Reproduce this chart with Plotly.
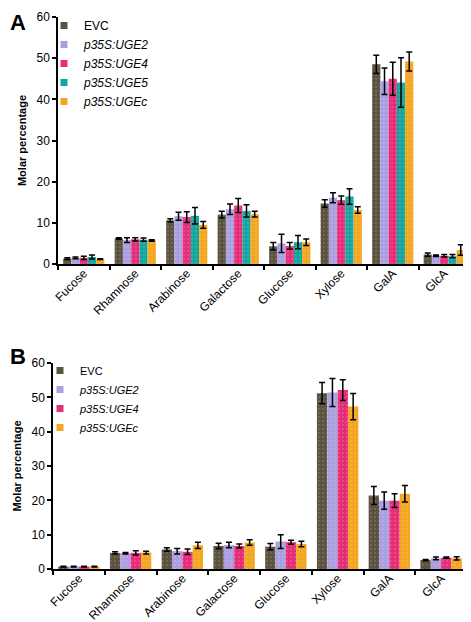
import plotly.graph_objects as go

categories = ["Fucose", "Rhamnose", "Arabinose", "Galactose", "Glucose", "Xylose", "GalA", "GlcA"]

series_a = ["EVC", "p35S:UGE2", "p35S:UGE4", "p35S:UGE5", "p35S:UGEc"]
a_evc = [1.3, 6.2, 10.6, 12.0, 4.3, 14.7, 48.5, 2.3]
a_evc_err = [0.2, 0.2, 0.4, 0.8, 0.9, 0.9, 2.2, 0.4]
a_uge2 = [1.5, 5.8, 11.6, 13.3, 5.0, 16.1, 44.4, 2.0]
a_uge2_err = [0.2, 0.6, 1.0, 1.3, 2.2, 1.2, 3.2, 0.2]
a_uge4 = [1.5, 6.0, 11.4, 14.2, 4.4, 15.5, 45.0, 2.0]
a_uge4_err = [0.4, 0.4, 1.3, 1.7, 0.8, 1.0, 4.0, 0.3]
a_uge5 = [1.7, 5.9, 11.7, 12.9, 5.3, 16.4, 44.1, 1.9]
a_uge5_err = [0.5, 0.4, 2.0, 1.5, 1.6, 1.9, 6.0, 0.4]
a_ugec = [1.2, 5.7, 9.5, 12.1, 5.3, 13.1, 49.2, 3.4]
a_ugec_err = [0.1, 0.2, 0.8, 0.7, 0.8, 0.8, 2.3, 1.3]

series_b = ["EVC", "p35S:UGE2", "p35S:UGE4", "p35S:UGEc"]
b_evc = [0.7, 4.7, 5.7, 6.7, 6.5, 51.2, 21.4, 2.6]
b_evc_err = [0.1, 0.3, 0.5, 0.8, 0.9, 3.1, 2.6, 0.2]
b_uge2 = [0.7, 4.6, 5.2, 7.0, 8.0, 51.4, 19.9, 3.1]
b_uge2_err = [0.1, 0.2, 0.8, 0.8, 2.0, 4.1, 2.5, 0.4]
b_uge4 = [0.7, 4.7, 5.0, 6.7, 7.8, 52.1, 19.9, 3.3]
b_uge4_err = [0.1, 0.6, 0.8, 0.6, 0.6, 3.0, 2.0, 0.2]
b_ugec = [0.7, 4.8, 6.9, 7.7, 7.3, 47.3, 21.9, 3.1]
b_ugec_err = [0.1, 0.4, 0.9, 0.8, 0.8, 3.8, 2.4, 0.5]

colors = {"EVC": "#5b5340", "p35S:UGE2": "#ab9fe0", "p35S:UGE4": "#e62e78",
          "p35S:UGE5": "#14a59e", "p35S:UGEc": "#f4a622"}

FONT = "Liberation Sans, Arial, sans-serif"

data_a = [(a_evc, a_evc_err), (a_uge2, a_uge2_err), (a_uge4, a_uge4_err),
          (a_uge5, a_uge5_err), (a_ugec, a_ugec_err)]
data_b = [(b_evc, b_evc_err), (b_uge2, b_uge2_err), (b_uge4, b_uge4_err),
          (b_ugec, b_ugec_err)]


def label(name):
    if name == "EVC":
        return name
    return "<i>" + name + "</i>"


fig = go.Figure()


def add_panel(names, data, xa, ya, legend):
    for name, (vals, errs) in zip(names, data):
        fig.add_trace(go.Bar(
            x=categories, y=vals, name=label(name),
            marker=dict(color=colors[name], line=dict(width=0),
                        pattern=dict(shape=".", fgcolor="#ffffff", fgopacity=0.35,
                                     size=4, solidity=0.08)),
            error_y=dict(type="data", array=errs, color="black", thickness=1.5, width=3),
            xaxis=xa, yaxis=ya, showlegend=False,
        ))
    for name in names:
        fig.add_trace(go.Scatter(
            x=[None], y=[None], mode="markers", name=label(name),
            marker=dict(symbol="square", size=7, color=colors[name]),
            xaxis=xa, yaxis=ya, legend=legend, legendgroup=legend + name,
        ))


add_panel(series_a, data_a, "x", "y", "legend")
add_panel(series_b, data_b, "x2", "y2", "legend2")

# page body has an 8px margin, so the figure is sized to the remaining view
W, H = 463, 614

xcommon = dict(type="category", showline=True, linecolor="black", linewidth=1.5,
               ticks="outside", tickson="boundaries", ticklen=4, tickwidth=1.5,
               tickcolor="black", tickangle=-45, automargin=False,
               ticklabelstandoff=-4,
               tickfont=dict(family=FONT, size=12, color="black"), showgrid=False)
ycommon = dict(range=[0, 60], dtick=10, showline=True, linecolor="black", linewidth=1.5,
               ticks="outside", ticklen=4, tickwidth=1.5, tickcolor="black",
               tickfont=dict(family=FONT, size=12, color="black"), showgrid=False,
               zeroline=False, automargin=False,
               title=dict(text="<b>Molar percentage</b>",
                          font=dict(family=FONT, size=11, color="black"), standoff=8))

fig.update_layout(
    width=W, height=H,
    margin=dict(l=0, r=0, t=0, b=0),
    paper_bgcolor="white", plot_bgcolor="white",
    barmode="group",
    bargap=0.2, bargroupgap=0,
    font=dict(family=FONT, color="black"),
    xaxis=dict(domain=[50 / W, 462 / W], anchor="y", **xcommon),
    yaxis=dict(domain=[1 - 256 / H, 1 - 9 / H], anchor="x", **ycommon),
    xaxis2=dict(domain=[45 / W, 459 / W], anchor="y2", **xcommon),
    yaxis2=dict(domain=[1 - 561 / H, 1 - 355 / H], anchor="x2", **ycommon),
    legend=dict(x=36 / W, y=1 - 3 / H, xanchor="left", yanchor="top",
                bgcolor="rgba(0,0,0,0)", font=dict(family=FONT, size=12, color="black"),
                itemwidth=30, tracegroupgap=0),
    legend2=dict(x=32 / W, y=1 - 348 / H, xanchor="left", yanchor="top",
                 bgcolor="rgba(0,0,0,0)", font=dict(family=FONT, size=11, color="black"),
                 itemwidth=30, tracegroupgap=0),
    annotations=[
        dict(text="<b>A</b>", x=0, y=1, xref="paper", yref="paper",
             xanchor="left", yanchor="top", showarrow=False,
             font=dict(family=FONT, size=22, color="black")),
        dict(text="<b>B</b>", x=0, y=1 - 334 / H, xref="paper", yref="paper",
             xanchor="left", yanchor="top", showarrow=False,
             font=dict(family=FONT, size=22, color="black")),
    ],
)

fig.write_html("out.html")
